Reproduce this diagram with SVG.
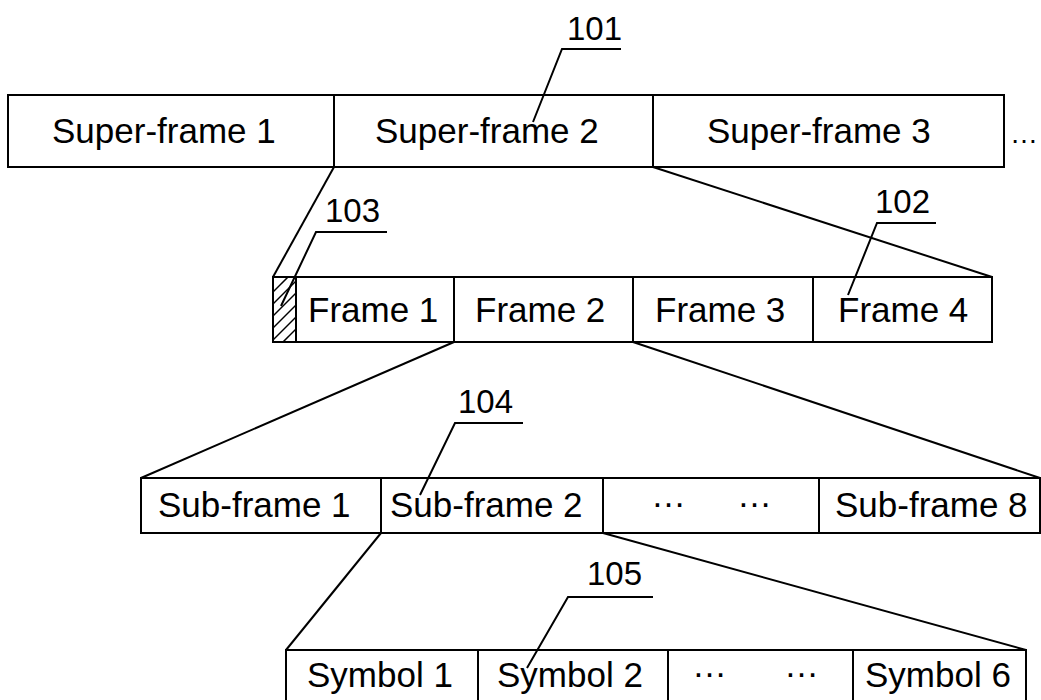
<svg xmlns="http://www.w3.org/2000/svg" width="1041" height="700" viewBox="0 0 1041 700">
<style>
.box{fill:#fff;stroke:#000;stroke-width:2}
.ln{fill:none;stroke:#000;stroke-width:2}
.thin{fill:none;stroke:#000;stroke-width:1.5}
text{font-family:"Liberation Sans",Arial,sans-serif;font-size:35px;fill:#000}
.num{font-size:33px}
</style>
<defs>
<clipPath id="hc"><rect x="273" y="277" width="23" height="65"/></clipPath>
</defs>
<rect width="1041" height="700" fill="#fff"/>
<g id="connectors">
<line class="ln" x1="334" y1="167" x2="273" y2="277"/>
<line class="ln" x1="653" y1="167" x2="992" y2="277"/>
<line class="ln" x1="454" y1="342" x2="141" y2="478"/>
<line class="ln" x1="633" y1="342" x2="1040" y2="478"/>
<line class="ln" x1="381" y1="533" x2="286" y2="650"/>
<line class="ln" x1="603" y1="533" x2="1026" y2="650"/>
</g>
<g id="superframes">
<rect class="box" x="8" y="95" width="996" height="72"/>
<line class="ln" x1="334" y1="95" x2="334" y2="167"/>
<line class="ln" x1="653" y1="95" x2="653" y2="167"/>
<text x="52" y="143">Super-frame 1</text>
<text x="375" y="143">Super-frame 2</text>
<text x="707" y="143">Super-frame 3</text>
<text x="1010" y="143" style="font-size:28px">…</text>
</g>
<g id="frames">
<rect class="box" x="273" y="277" width="719" height="65"/>
<g clip-path="url(#hc)">
<g class="thin">
<line x1="263" y1="302" x2="303" y2="262"/>
<line x1="263" y1="314" x2="303" y2="274"/>
<line x1="263" y1="326" x2="303" y2="286"/>
<line x1="263" y1="338" x2="303" y2="298"/>
<line x1="263" y1="350" x2="303" y2="310"/>
<line x1="263" y1="362" x2="303" y2="322"/>
<line x1="263" y1="374" x2="303" y2="334"/>
</g>
</g>
<line class="ln" x1="296" y1="277" x2="296" y2="342"/>
<line class="ln" x1="454" y1="277" x2="454" y2="342"/>
<line class="ln" x1="633" y1="277" x2="633" y2="342"/>
<line class="ln" x1="813" y1="277" x2="813" y2="342"/>
<text x="308" y="322">Frame 1</text>
<text x="475" y="322">Frame 2</text>
<text x="655" y="322">Frame 3</text>
<text x="838" y="322">Frame 4</text>
</g>
<g id="subframes">
<rect class="box" x="141" y="478" width="899" height="55"/>
<line class="ln" x1="381" y1="478" x2="381" y2="533"/>
<line class="ln" x1="603" y1="478" x2="603" y2="533"/>
<line class="ln" x1="819" y1="478" x2="819" y2="533"/>
<text x="158" y="517">Sub-frame 1</text>
<text x="390" y="517">Sub-frame 2</text>
<text x="651" y="507">…</text>
<text x="737" y="507">…</text>
<text x="835" y="517">Sub-frame 8</text>
</g>
<g id="symbols">
<rect class="box" x="286" y="650" width="740" height="60"/>
<line class="ln" x1="478" y1="650" x2="478" y2="710"/>
<line class="ln" x1="668" y1="650" x2="668" y2="710"/>
<line class="ln" x1="853" y1="650" x2="853" y2="710"/>
<text x="307" y="687">Symbol 1</text>
<text x="497" y="687">Symbol 2</text>
<text x="692" y="677">…</text>
<text x="784" y="677">…</text>
<text x="865" y="687">Symbol 6</text>
</g>
<g id="label-101">
<text class="num" x="567" y="40">101</text>
<polyline class="ln" points="621,49 562,49 533,122"/>
</g>
<g id="label-102">
<text class="num" x="875" y="213">102</text>
<polyline class="ln" points="936,223 877,223 848,295"/>
</g>
<g id="label-103">
<text class="num" x="325" y="222">103</text>
<polyline class="ln" points="387,232 316,232 281,306"/>
</g>
<g id="label-104">
<text class="num" x="458" y="413">104</text>
<polyline class="ln" points="523,423 455,423 420,495"/>
</g>
<g id="label-105">
<text class="num" x="587" y="585">105</text>
<polyline class="ln" points="653,597 568,597 527,668"/>
</g>
</svg>
